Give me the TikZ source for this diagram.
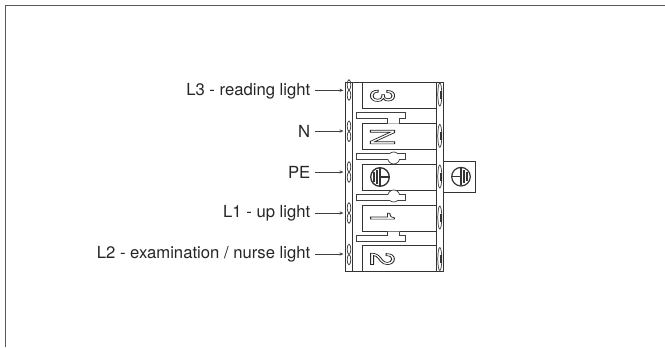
\documentclass[tikz,border=0pt]{standalone}
\usepackage{fontspec}
\setmainfont{TeX Gyre Heros}
\usetikzlibrary{arrows.meta}
\newcommand{\outl}[1]{\scalebox{0.72}[1]{\special{pdf:code 1 Tr 0.7 w 0.15 G}#1\special{pdf:code 0 Tr 1 w 0 G}}}
\tikzset{
  x=0.75pt,y=-0.75pt,
  frameline/.style={draw=black!65,line width=1.1pt},
  blockline/.style={draw=black!80,line width=0.7pt},
  thinline/.style={draw=black!75,line width=0.55pt},
  lbl/.style={anchor=east,inner sep=0pt,font=\fontsize{12.5pt}{14pt}\selectfont,text=black!85},
  lead/.style={draw=black!75,line width=0.5pt,-{Stealth[length=3pt,width=2.4pt]}},
  digit/.style={inner sep=0pt,font=\fontsize{25pt}{25pt}\selectfont,rotate=-90,text=black!80},
}
\begin{document}
\begin{tikzpicture}
\useasboundingbox (0,0) rectangle (665,347);
\clip (0,0) rectangle (665,347);
\draw[frameline] (5.5,347) -- (5.5,5.5) -- (665,5.5);
% block
\draw[blockline] (345.5,82.5) rectangle (443.5,271.5);
\draw[blockline] (352.5,82.5) -- (352.5,271.5);
\draw[blockline] (362.5,82.5) -- (362.5,108.5) -- (436.5,108.5);
\draw[blockline] (436.5,82.5) -- (436.5,271.5);
\draw[blockline] (362.5,123.5) rectangle (436.5,149.5);
\draw[blockline] (362.5,164.5) rectangle (436.5,190.5);
\draw[blockline] (362.5,205.5) rectangle (436.5,231.5);
\draw[blockline] (362.5,271.5) -- (362.5,245.5) -- (436.5,245.5);
% links
\draw[thinline,fill=white] (387.7,123.5) -- (387.7,118.7) -- (356,118.7) -- (356,112.7) -- (405.7,112.7) -- (405.7,118.7) -- (399.7,118.7) -- (399.7,123.5);
\draw[thinline,fill=white] (387.7,231.5) -- (387.7,235.7) -- (356,235.7) -- (356,241.7) -- (405.7,241.7) -- (405.7,235.7) -- (399.7,235.7) -- (399.7,231.5);
\draw[thinline,fill=white] (356,153.3) rectangle (405.7,159.3);
\draw[thinline,fill=white] (356,194.7) rectangle (405.7,200.7);
\draw[thinline,fill=white] (393.7,158) circle (6);
\draw[thinline,fill=white] (393.7,196) circle (6);
\fill[white] (386,154) rectangle (401,159);
\fill[white] (386,195.3) rectangle (401,200.2);
\draw[thinline] (356,159.3) -- (388,159.3) (399.4,159.3) -- (405.7,159.3);
\draw[thinline] (356,153.3) -- (388,153.3) (399.4,153.3) -- (405.7,153.3);
\draw[thinline] (356,194.7) -- (388,194.7) (399.4,194.7) -- (405.7,194.7);
\draw[thinline] (356,200.7) -- (388,200.7) (399.4,200.7) -- (405.7,200.7);
% left and right ovals
\foreach \yy in {90,131.3,172,213,254.5}{
  \draw[thinline] (349,\yy-5.2) ellipse (1.8 and 5.1);
  \draw[thinline] (349,\yy+5.2) ellipse (1.8 and 5.1);
  \draw[thinline] (439.8,\yy+4.5) ellipse (2 and 11.5);
  \fill[black!80] (440,\yy+0.5) rectangle (442,\yy+8.5);
}
% digits
\node[digit] (d3) at (382.5,96) {\outl{3}};
\node[digit] (dn) at (382.5,137) {\outl{N}};
\node[digit] (d1) at (382.5,217.5) {\outl{1}};
\node[digit] (d2) at (382.5,259) {\outl{2}};
% earth in block
\draw[blockline,line width=1pt] (380,177) circle (9.3);
\draw[blockline,line width=1pt] (389.3,177) -- (380,177);
\draw[blockline,line width=1pt] (380,168) -- (380,186);
\draw[blockline,line width=1pt] (377,170) -- (377,184);
\draw[blockline,line width=1pt] (374,172) -- (374,182);
% earth box
\node[draw=black!80,line width=0.7pt,minimum width=23.7pt,minimum height=22.9pt,inner sep=0pt] (earth) at (459.5,177) {};
\draw[blockline,line width=0.9pt] (461,176.7) circle (9.3);
\draw[blockline,line width=0.9pt] (451.7,176.7) -- (461,176.7);
\draw[blockline,line width=0.9pt] (461,168) -- (461,185.4);
\draw[blockline,line width=0.9pt] (464,170) -- (464,183.4);
\draw[blockline,line width=0.9pt] (467,172) -- (467,181.4);
% labels
\node[lbl] (l3) at (310.5,90.8) {L3 - reading light};
\node[lbl] (ln) at (310.5,131.5) {N};
\node[lbl] (lpe) at (310.5,172.5) {PE};
\node[lbl] (l1) at (310.5,213.5) {L1 - up light};
\node[lbl] (l2) at (310.5,254.5) {L2 - examination / nurse light};
\coordinate (t3) at (343.5,90.3);
\coordinate (tn) at (343.5,131);
\coordinate (tpe) at (343.5,172);
\coordinate (t1) at (343.5,213);
\coordinate (t2) at (343.5,254);
\draw[lead] (l3.east |- t3) ++(4.5,0) -- (t3);
\draw[lead] (ln.east |- tn) ++(4.5,0) -- (tn);
\draw[lead] (lpe.east |- tpe) ++(4.5,0) -- (tpe);
\draw[lead] (l1.east |- t1) ++(4.5,0) -- (t1);
\draw[lead] (l2.east |- t2) ++(4.5,0) -- (t2);
\end{tikzpicture}
\end{document}
